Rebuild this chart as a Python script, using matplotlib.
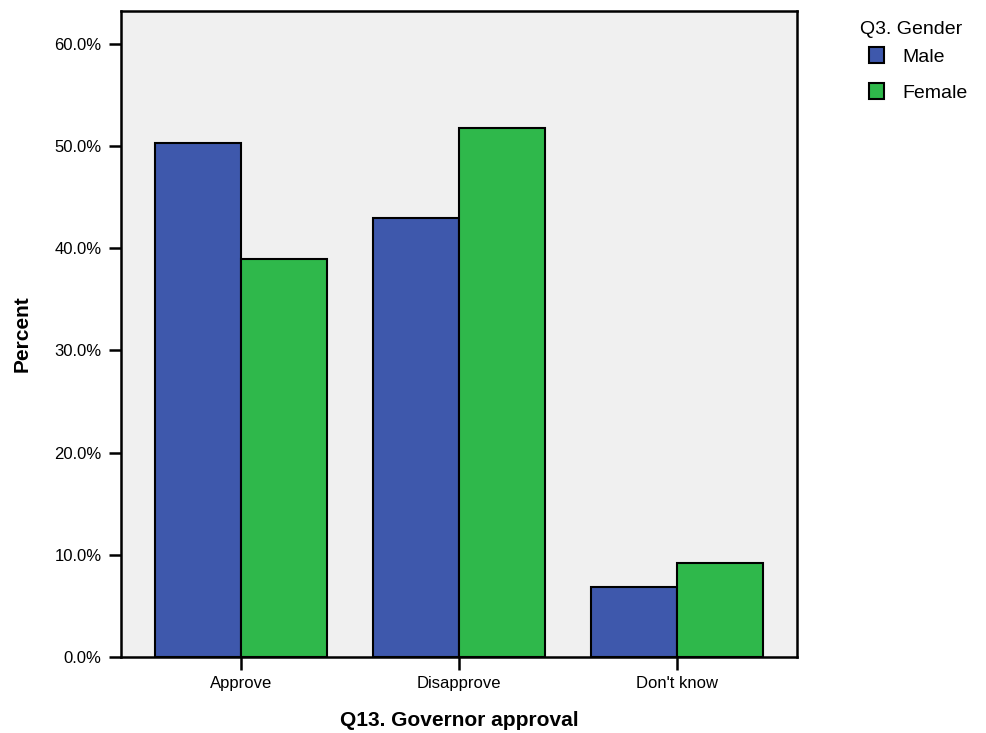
import numpy as np
import matplotlib
matplotlib.use("Agg")
import matplotlib.pyplot as plt
from matplotlib.patches import Patch

plt.rcParams['font.family'] = ['Liberation Sans', 'DejaVu Sans']

categories = ["Approve", "Disapprove", "Don't know"]
male = [50.3, 42.9, 6.8]
female = [38.9, 51.8, 9.2]
yticks = [0, 10, 20, 30, 40, 50, 60]

blue = "#3e58ac"
green = "#2fb84b"

fig = plt.figure(figsize=(9.86, 7.33), dpi=100)
ax = fig.add_axes([0.1227, 0.1037, 0.6856, 0.8813])
ax.set_facecolor("#f0f0f0")

x = np.arange(len(categories))
w = 0.394
ax.bar(x - w / 2, male, w, color=blue, edgecolor="black", linewidth=1.5, zorder=2)
ax.bar(x + w / 2, female, w, color=green, edgecolor="black", linewidth=1.5, zorder=2)

ax.set_xlim(-0.55, 2.55)
ax.set_ylim(0, 63.2)
ax.set_yticks(yticks)
ax.set_yticklabels([f"{v:.1f}%" for v in yticks], fontsize=12)
ax.set_xticks(x)
ax.set_xticklabels(categories, fontsize=12)
ax.tick_params(axis="both", length=9, width=1.8, color="black", pad=5)

for s in ax.spines.values():
    s.set_linewidth(1.8)

ax.set_ylabel("Percent", fontsize=15, fontweight="bold")
ax.yaxis.set_label_coords(-0.132, 0.5)
ax.set_xlabel("Q13. Governor approval", fontsize=15, fontweight="bold")
ax.xaxis.set_label_coords(0.5, -0.083)

# legend: title sits a bit left of the swatches
fig.text(860 / 986, 1 - 30 / 733, "Q3. Gender", fontsize=14, va="center", ha="left")
handles = [Patch(facecolor=blue, edgecolor="black", linewidth=1.5, label="Male"),
           Patch(facecolor=green, edgecolor="black", linewidth=1.5, label="Female")]
fig.legend(handles=handles, loc="upper left",
           bbox_to_anchor=(869 / 986, 1 - 47 / 733), frameon=False, fontsize=14,
           handlelength=0.78, handleheight=0.9, handletextpad=0.95,
           borderpad=0, borderaxespad=0, labelspacing=0.9)

fig.savefig("out.png", dpi=100)
